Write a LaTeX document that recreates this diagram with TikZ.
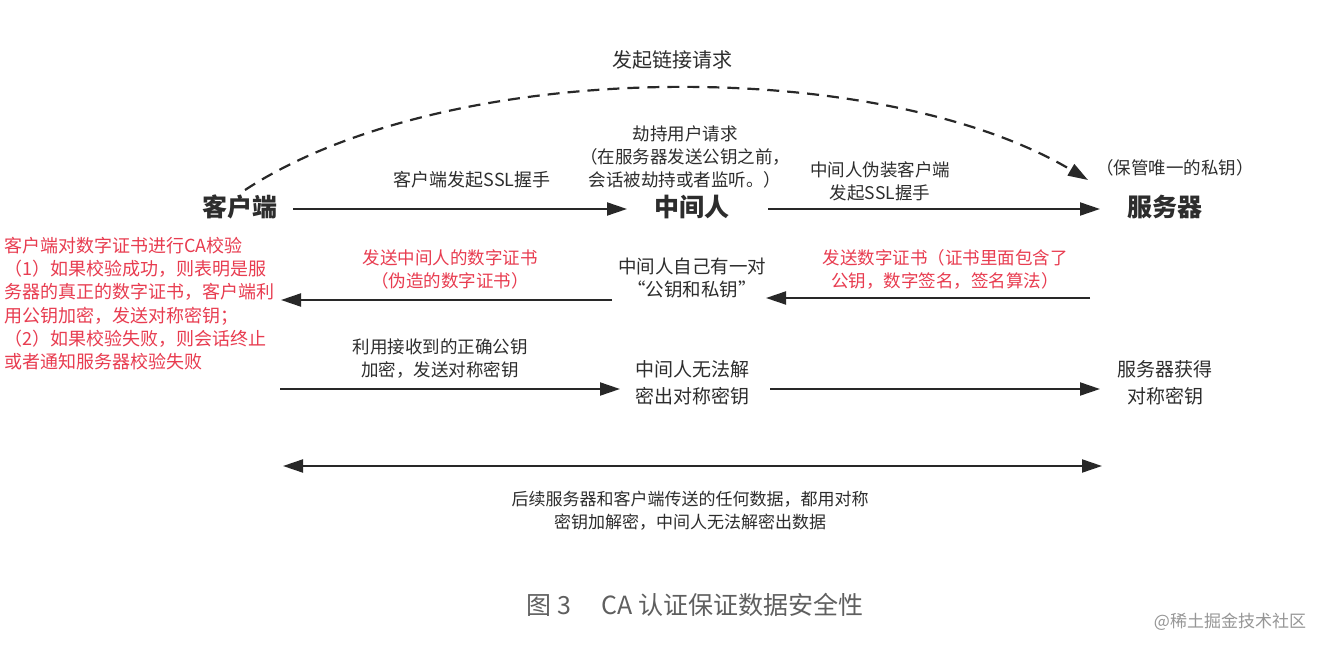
\documentclass[tikz,border=0pt]{standalone}
\usepackage{fontspec}
\setmainfont{Noto Sans CJK SC}
\usetikzlibrary{arrows.meta}
\definecolor{txt}{RGB}{45,45,45}
\definecolor{lin}{RGB}{40,40,40}
\definecolor{redt}{RGB}{232,60,80}
\definecolor{capt}{RGB}{95,95,95}
\definecolor{wm}{RGB}{150,150,150}
\tikzset{
  big/.style={text=txt, font=\fontsize{25}{30}\selectfont\bfseries, inner sep=0pt},
  lbl/.style={text=txt, font=\fontsize{17.5}{23}\selectfont, align=center, inner sep=0pt},
  redlbl/.style={text=redt, font=\fontsize{17.5}{23}\selectfont, align=center, inner sep=0pt},
  arr/.style={draw=lin, line width=2pt, -{Triangle[length=20pt,width=13pt]}},
  darr/.style={draw=lin, line width=2pt, {Triangle[length=20pt,width=13pt]}-{Triangle[length=20pt,width=13pt]}},
}
\begin{document}
\begin{tikzpicture}[x=1pt,y=-1pt]
\useasboundingbox[fill=white] (0,0) rectangle (1328,652);

% main actors
\node[big] (client) at (240,207) {客户端};
\node[big] (mitm) at (692,207) {中间人};
\node[big] (server) at (1165,207) {服务器};

% top dashed arc
\node[lbl, font=\fontsize{20}{24}\selectfont] (conn) at (672,60) {发起链接请求};
\coordinate (arcS) at (245,190);
\coordinate (arcE) at (1088,180);
\draw[draw=lin, line width=2.2pt, dash pattern=on 12pt off 8pt, -{Triangle[length=20pt,width=13pt]}]
  (arcS) .. controls (450,56) and (880,56) .. (arcE);
\node[lbl] (priv) at (1175,168) {（保管唯一的私钥）};

% row 1
\coordinate (r1a) at (293,209);
\coordinate (r1b) at (627,209);
\coordinate (r1c) at (768,209);
\coordinate (r1d) at (1100,209);
\draw[arr] (r1a) -- (r1b);
\draw[arr] (r1c) -- (r1d);
\node[lbl, font=\fontsize{18}{23}\selectfont] (l1) at (472,180) {客户端发起SSL握手};
\node[lbl] (hij) at (685,157) {劫持用户请求\\（在服务器发送公钥之前，\\会话被劫持或者监听。）};
\node[lbl] (fake) at (880,181) {中间人伪装客户端\\发起SSL握手};

% row 2
\coordinate (r2a) at (1090,298);
\coordinate (r2b) at (766,298);
\coordinate (r2c) at (612,300);
\coordinate (r2d) at (281,300);
\draw[arr] (r2a) -- (r2b);
\draw[arr] (r2c) -- (r2d);
\node[redlbl] (fakecert) at (450,269) {发送中间人的数字证书\\（伪造的数字证书）};
\node[lbl, font=\fontsize{18.5}{23}\selectfont] (ownkey) at (692,278) {中间人自己有一对\\“公钥和私钥”};
\node[redlbl] (cert) at (945,269) {发送数字证书（证书里面包含了\\公钥，数字签名，签名算法）};
\node[redlbl, font=\fontsize{18}{23.2}\selectfont, align=left, anchor=north west] (check) at (4,237) {客户端对数字证书进行CA校验\\（1）如果校验成功，则表明是服\\务器的真正的数字证书，客户端利\\用公钥加密，发送对称密钥；\\（2）如果校验失败，则会话终止\\或者通知服务器校验失败};

% row 3
\coordinate (r3a) at (280,389);
\coordinate (r3b) at (620,389);
\coordinate (r3c) at (770,389);
\coordinate (r3d) at (1100,389);
\draw[arr] (r3a) -- (r3b);
\draw[arr] (r3c) -- (r3d);
\node[lbl] (enc) at (440,359) {利用接收到的正确公钥\\加密，发送对称密钥};
\node[lbl, font=\fontsize{19}{27}\selectfont] (nodec) at (692,383) {中间人无法解\\密出对称密钥};
\node[lbl, font=\fontsize{19}{27}\selectfont] (got) at (1165,383) {服务器获得\\对称密钥};

% row 4
\coordinate (r4a) at (283,466);
\coordinate (r4b) at (1102,466);
\draw[darr] (r4a) -- (r4b);
\node[lbl, font=\fontsize{17}{23}\selectfont] (after) at (690,511) {后续服务器和客户端传送的任何数据，都用对称\\密钥加解密，中间人无法解密出数据};

% caption and watermark
\node[text=capt, font=\fontsize{25}{28}\selectfont, inner sep=0pt] (cap) at (695,605) {图 3\hspace{1.2em}CA 认证保证数据安全性};
\node[text=wm, font=\fontsize{17}{20}\selectfont, inner sep=0pt] (wmk) at (1230,622) {@稀土掘金技术社区};
\end{tikzpicture}
\end{document}
